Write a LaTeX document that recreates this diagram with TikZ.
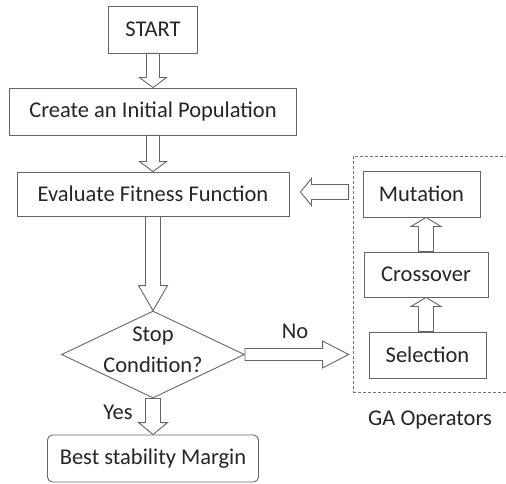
\documentclass[tikz,border=0pt]{standalone}
\usepackage{fontspec}
\setmainfont{Carlito}
\usetikzlibrary{calc,shapes.geometric,positioning}

\tikzset{
  box/.style={draw=black!60, line width=0.9pt, text=black!85, inner sep=0pt},
  decision/.style={box, diamond},
  lbl/.style={text=black!85, inner sep=0pt, anchor=base},
  fat/.style={draw=black!60, line width=0.9pt, fill=white, line join=miter},
  opsframe/.style={draw=black!55, line width=0.8pt, dash pattern=on 3pt off 2pt},
}

% hollow block arrow: from, to, shaft half width, head half width, head length
\newcommand{\fatarrow}[5]{%
  \coordinate (h) at ($(#2)!#5!(#1)$);
  \draw[fat] ($(#1)!#3!90:(#2)$) -- ($(h)!#3!90:(#2)$) -- ($(h)!#4!90:(#2)$) -- (#2)
     -- ($(h)!#4!-90:(#2)$) -- ($(h)!#3!-90:(#2)$) -- ($(#1)!#3!-90:(#2)$) -- cycle;}

\begin{document}
\begin{tikzpicture}[x=1pt, y=-1pt, font=\fontsize{22.5}{31}\selectfont]
  \clip (0,0) rectangle (506,484);
  \fill[white] (0,0) rectangle (506,484);

  % main column
  \node[box, minimum width=89pt, minimum height=47pt] (start) at (153,29.5) {START};
  \node[box, minimum width=287pt, minimum height=47pt] (create) at (153,111.5) {Create an Initial Population};
  \node[box, minimum width=272pt, minimum height=44pt] (eval) at (153,194) {Evaluate Fitness Function};
  \node[decision, minimum width=183pt, minimum height=87pt] (stop) at (153,354.5) {};
  \node[align=center, text=black!85, inner sep=0pt] (stoptxt) at ($(stop.center)+(0,-5)$) {Stop\\Condition?};
  \node[box, rounded corners=5pt, minimum width=211pt, minimum height=47pt] (best) at (153,458.5) {Best stability Margin};

  % GA operators
  \node[opsframe, minimum width=167pt, minimum height=236pt] (ops) at (436.5,274) {};
  \node[box, minimum width=117pt, minimum height=46pt] (mut) at (421.5,194) {Mutation};
  \node[box, minimum width=124pt, minimum height=45pt] (cross) at (426,274.5) {Crossover};
  \node[box, minimum width=117pt, minimum height=46pt] (sel) at (427.5,355) {Selection};
  \node[lbl] (gaops) at (430,425) {GA Operators};

  % arrows
  \fatarrow{start.south}{create.north}{6.5pt}{13.5pt}{10pt}
  \fatarrow{create.north |- create.south}{eval.north}{6.5pt}{13.5pt}{10pt}
  \fatarrow{eval.south}{stop.north}{7.5pt}{14.5pt}{25pt}
  \fatarrow{stop.south}{best.north}{7.5pt}{14.5pt}{12pt}

  \coordinate (noend) at ($(stop.east -| ops.west)+(-4,0)$);
  \fatarrow{stop.east}{noend}{6pt}{13.5pt}{26pt}
  \node[lbl] (no) at (295,338) {No};
  \node[lbl] (yes) at (118,419) {Yes};

  \coordinate (backstart) at ($(mut.west -| ops.west)+(-4,-2)$);
  \coordinate (backend) at ($(eval.east)+(11,-2)$);
  \fatarrow{backstart}{backend}{7.5pt}{13.5pt}{11pt}

  \coordinate (up1) at (sel.north -| cross.north);
  \coordinate (up2) at (cross.north |- mut.south);
  \fatarrow{up1}{cross.south}{7.5pt}{15pt}{9pt}
  \fatarrow{cross.north}{up2}{7.5pt}{15pt}{9pt}
\end{tikzpicture}
\end{document}
